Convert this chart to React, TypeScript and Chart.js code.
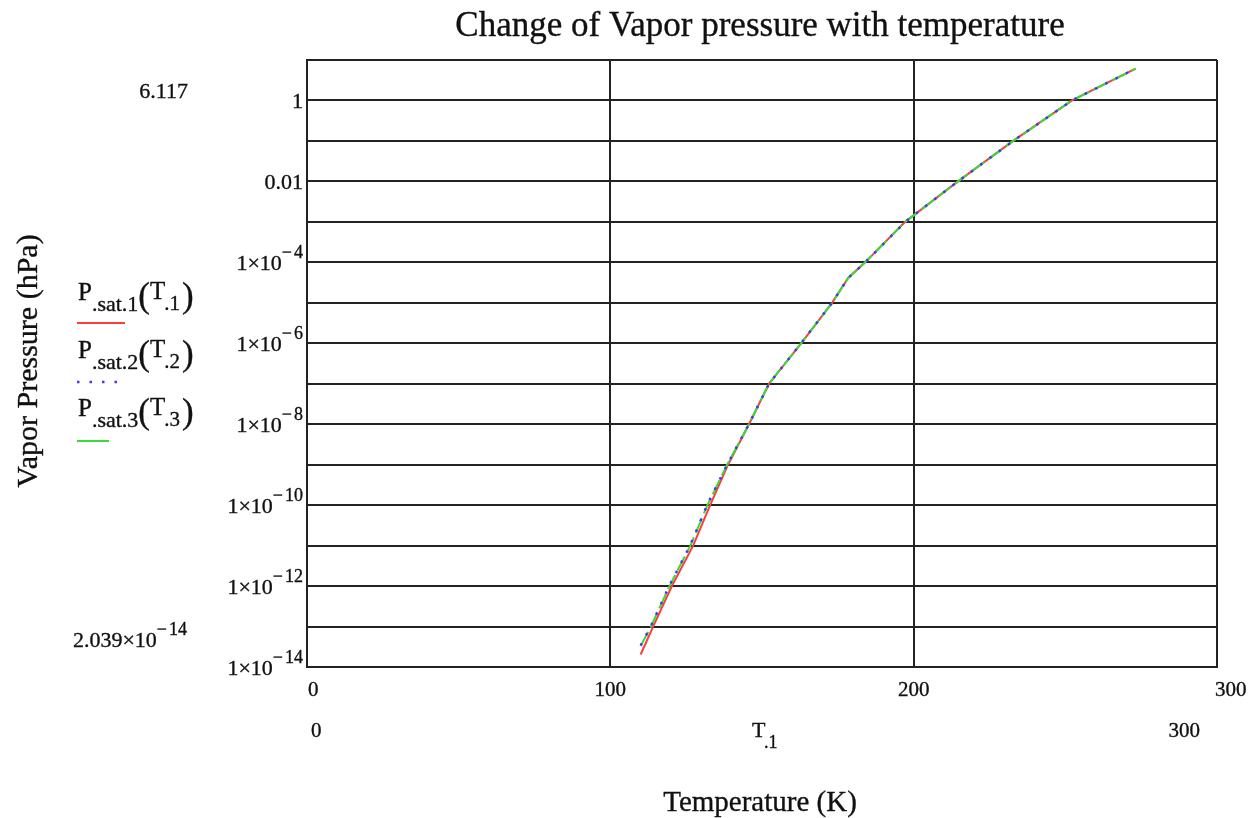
import React, { useEffect, useRef } from "react";
import { Chart, registerables } from "chart.js";

Chart.register(...registerables);

// ---------- data ----------
const TITLE = "Change of Vapor pressure with temperature";
const X_TITLE = "Temperature (K)";
const Y_TITLE = "Vapor Pressure (hPa)";

// series 1 (red, solid)
const T1 = [110, 114.1, 120.3, 127.3, 132.9, 138.8, 145.7, 152.3, 162.9, 173.1, 178.4, 184.0, 197.2, 214.6, 232.8, 252.2, 273.16];
const P1 = [2.039e-14, 1e-13, 1e-12, 1e-11, 1e-10, 1e-9, 1e-8, 1e-7, 1e-6, 1e-5, 4.1e-5, 1e-4, 1e-3, 1e-2, 1e-1, 1, 6.117];
// series 2 (blue, dotted)
const T2 = [110, 113.3, 119.4, 126.3, 131.9, 138.5, 145.7, 152.3, 162.9, 173.1, 178.4, 184.0, 197.2, 214.6, 232.8, 252.2, 273.16];
const P2 = [3.4e-14, 1e-13, 1e-12, 1e-11, 1e-10, 1e-9, 1e-8, 1e-7, 1e-6, 1e-5, 4.1e-5, 1e-4, 1e-3, 1e-2, 1e-1, 1, 6.117];
// series 3 (green, solid)
const T3 = [110, 113.4, 119.5, 126.4, 132.0, 138.5, 145.7, 152.3, 162.9, 173.1, 178.4, 184.0, 197.2, 214.6, 232.8, 252.2, 273.16];
const P3 = [3.3e-14, 1e-13, 1e-12, 1e-11, 1e-10, 1e-9, 1e-8, 1e-7, 1e-6, 1e-5, 4.1e-5, 1e-4, 1e-3, 1e-2, 1e-1, 1, 6.117];

const SERIES_SUBS = [".sat.1", ".sat.2", ".sat.3"];
const SERIES_ARGS = [".1", ".2", ".3"];
const SERIES_COLORS = ["#ff3b3b", "#3a3aff", "#33dd33"];

const X_TICKS = [0, 100, 200, 300];
const X_RANGE_LABELS = ["0", "300"];
const X_VAR = "T";
const X_VAR_SUB = ".1";
const Y_GRID = [10, 1, 1e-1, 1e-2, 1e-3, 1e-4, 1e-5, 1e-6, 1e-7, 1e-8, 1e-9, 1e-10, 1e-11, 1e-12, 1e-13, 1e-14];
const Y_LABEL_EXPS = [0, -2, -4, -6, -8, -10, -12, -14];
const Y_RANGE_TOP = "6.117";
const Y_RANGE_BOTTOM_MANT = "2.039";
const Y_RANGE_BOTTOM_EXP = "14";

// ---------- styling ----------
const FONT = "'Liberation Serif', 'Times New Roman', serif";
const GRID = "#222";
const INK = "#111";

function setFont(ctx: CanvasRenderingContext2D, size: number) {
  ctx.font = `${size}px ${FONT}`;
}

function txt(ctx: CanvasRenderingContext2D, s: string, x: number, y: number, size: number, align: CanvasTextAlign = "left") {
  setFont(ctx, size);
  ctx.textAlign = align;
  ctx.textBaseline = "alphabetic";
  ctx.fillText(s, x, y);
  ctx.lineWidth = 0.35;
  ctx.strokeStyle = INK;
  ctx.strokeText(s, x, y);
}

function sci(ctx: CanvasRenderingContext2D, mant: string, exp: string, rightX: number, midY: number) {
  const base = mant + "×10";
  setFont(ctx, 22);
  const wb = ctx.measureText(base).width;
  setFont(ctx, 18);
  const wm = ctx.measureText("−").width;
  const wd = ctx.measureText(exp).width;
  const gap = 2;
  const start = rightX - (wb + wm + gap + wd);
  const bl = midY + 7.5;
  txt(ctx, base, start, bl, 22);
  txt(ctx, "−", start + wb, bl - 12, 18);
  txt(ctx, exp, start + wb + wm + gap, bl - 12, 18);
}

const textPlugin = {
  id: "mathcadText",
  afterDraw(chart: any) {
    const ctx: CanvasRenderingContext2D = chart.ctx;
    const xs = chart.scales.x;
    const ys = chart.scales.y;
    const area = chart.chartArea;
    ctx.save();
    ctx.fillStyle = INK;

    // title
    txt(ctx, TITLE, 760, 36, 35, "center");

    // y tick labels
    const rightX = area.left - 4;
    Y_LABEL_EXPS.forEach((e) => {
      const y = ys.getPixelForValue(Math.pow(10, e));
      if (e === 0) txt(ctx, "1", rightX, y + 7.5, 22, "right");
      else if (e === -2) txt(ctx, "0.01", rightX, y + 7.5, 22, "right");
      else sci(ctx, "1", String(-e), rightX, y);
    });

    // y range labels
    txt(ctx, Y_RANGE_TOP, 188, 98, 22, "right");
    sci(ctx, Y_RANGE_BOTTOM_MANT, Y_RANGE_BOTTOM_EXP, 187, 639);

    // x tick labels
    X_TICKS.forEach((v, i) => {
      const x = xs.getPixelForValue(v);
      if (i === 0) txt(ctx, String(v), x + 1, 696, 21, "left");
      else if (i === X_TICKS.length - 1) txt(ctx, String(v), x - 2, 696, 21, "left");
      else txt(ctx, String(v), x, 696, 21, "center");
    });

    // x range labels + variable
    txt(ctx, X_RANGE_LABELS[0], 311, 737, 21, "left");
    txt(ctx, X_RANGE_LABELS[1], 1200, 737, 21, "right");
    txt(ctx, X_VAR, 752, 737, 22, "left");
    txt(ctx, X_VAR_SUB, 764, 748, 18, "left");

    // x title
    txt(ctx, X_TITLE, 760, 811, 29, "center");

    // y title
    ctx.save();
    ctx.translate(37, 361);
    ctx.rotate(-Math.PI / 2);
    txt(ctx, Y_TITLE, 0, 0, 30, "center");
    ctx.restore();

    // legend
    SERIES_SUBS.forEach((sub, i) => {
      const bl = 300 + i * 58;
      txt(ctx, "P", 78, bl, 25, "left");
      setFont(ctx, 25);
      const wp = ctx.measureText("P").width;
      txt(ctx, sub, 78 + wp, bl + 11, 22, "left");
      setFont(ctx, 22);
      const ws = ctx.measureText(sub).width;
      let x = 78 + wp + ws;
      txt(ctx, "(", x, bl + 7, 35, "left");
      setFont(ctx, 35);
      x += ctx.measureText("(").width;
      txt(ctx, "T", x, bl - 1, 25, "left");
      setFont(ctx, 25);
      x += ctx.measureText("T").width - 1;
      txt(ctx, SERIES_ARGS[i], x, bl + 10, 21, "left");
      setFont(ctx, 21);
      x += ctx.measureText(SERIES_ARGS[i]).width + 2;
      txt(ctx, ")", x, bl + 7, 35, "left");

      // sample line
      const ly = 323 + i * 59;
      ctx.save();
      ctx.strokeStyle = SERIES_COLORS[i];
      ctx.lineWidth = i === 1 ? 2.5 : 2;
      if (i === 1) ctx.setLineDash([2.5, 10]);
      ctx.beginPath();
      const len = i === 0 ? 48 : i === 1 ? 40 : 32;
      ctx.moveTo(77, ly);
      ctx.lineTo(77 + len, ly);
      ctx.stroke();
      ctx.restore();
    });

    ctx.restore();
  },
};

export default function App() {
  const ref = useRef<HTMLCanvasElement>(null);
  useEffect(() => {
    document.body.style.margin = "0";
    const toPts = (t: number[], p: number[]) => t.map((x, i) => ({ x, y: p[i] }));
    const chart = new Chart(ref.current!, {
      type: "scatter",
      data: {
        datasets: [
          {
            label: "P.sat.1(T.1)",
            data: toPts(T1, P1),
            showLine: true,
            borderColor: SERIES_COLORS[0],
            backgroundColor: SERIES_COLORS[0],
            borderWidth: 2,
            pointRadius: 0,
            order: 3,
          },
          {
            label: "P.sat.2(T.2)",
            data: toPts(T2, P2),
            showLine: true,
            borderColor: SERIES_COLORS[1],
            backgroundColor: SERIES_COLORS[1],
            borderWidth: 2.5,
            borderDash: [2.5, 9],
            pointRadius: 0,
            order: 1,
          },
          {
            label: "P.sat.3(T.3)",
            data: toPts(T3, P3),
            showLine: true,
            borderColor: SERIES_COLORS[2],
            backgroundColor: SERIES_COLORS[2],
            borderWidth: 2,
            borderDash: [16, 5],
            pointRadius: 0,
            order: 2,
          },
        ],
      },
      options: {
        responsive: false,
        animation: false,
        layout: { padding: { left: 307, top: 60, right: 33, bottom: 151 } },
        plugins: {
          legend: { display: false },
          tooltip: { enabled: false },
          title: { display: false },
        },
        scales: {
          x: {
            type: "linear",
            min: 0,
            max: 300,
            afterBuildTicks: (s: any) => {
              s.ticks = X_TICKS.map((v) => ({ value: v }));
            },
            ticks: { display: false },
            grid: { color: GRID, lineWidth: 2, drawTicks: false },
            border: { color: GRID, width: 2 },
          },
          y: {
            type: "logarithmic",
            min: 1e-14,
            max: 10,
            afterBuildTicks: (s: any) => {
              s.ticks = Y_GRID.map((v) => ({ value: v }));
            },
            ticks: { display: false },
            grid: { color: GRID, lineWidth: 2, drawTicks: false },
            border: { color: GRID, width: 2 },
          },
        },
      } as any,
      plugins: [textPlugin],
    });
    return () => chart.destroy();
  }, []);
  return (
    <div style={{ width: 1250, height: 818 }}>
      <canvas ref={ref} width={1250} height={818} style={{ display: "block" }} />
    </div>
  );
}
